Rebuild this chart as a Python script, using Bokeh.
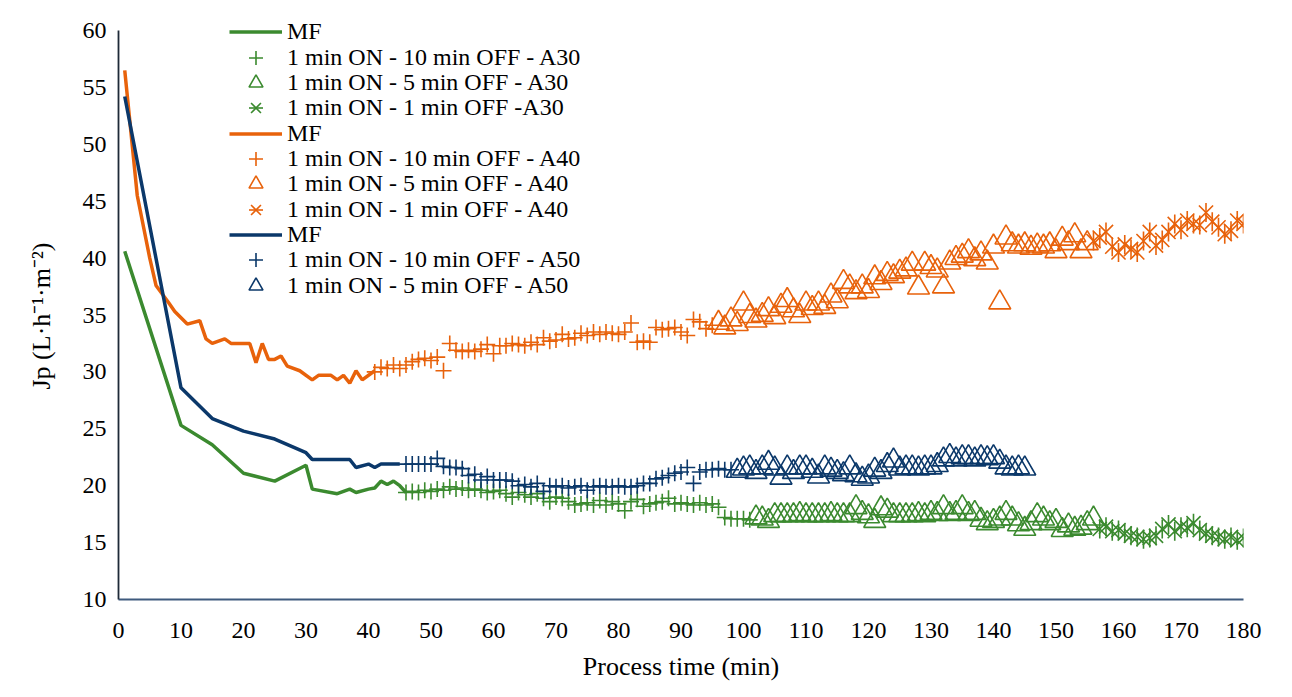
from bokeh.plotting import figure
from bokeh.models import FixedTicker, Legend, LegendItem, Range1d, Title
from bokeh.core.properties import value
from bokeh.embed import file_html
from bokeh.resources import INLINE

# ---------------- data ----------------
x_ticks = [0, 10, 20, 30, 40, 50, 60, 70, 80, 90, 100, 110, 120, 130, 140, 150, 160, 170, 180]
y_ticks = [10, 15, 20, 25, 30, 35, 40, 45, 50, 55, 60]

# A30 (green)
a30_mf_t = [1, 10, 15, 20, 25, 30, 31, 35, 37, 38, 40, 41, 42, 43, 44, 45, 46]
a30_mf = [40.6, 25.3, 23.6, 21.1, 20.4, 21.8, 19.7, 19.3, 19.7, 19.4, 19.7, 19.8, 20.4, 20.1, 20.4, 20.0, 19.4]
a30_p10_t = [46, 47, 48, 49, 50, 51, 52, 53, 54, 55, 56, 57, 58, 59, 60, 61, 62, 63, 64, 65,
             66, 67, 68, 69, 70, 71, 72, 73, 74, 75, 76, 77, 78, 79, 80, 81, 82, 83, 84, 85,
             86, 87, 88, 89, 90, 91, 92, 93, 94, 95, 96, 97, 98, 99, 100, 101]
a30_p10 = [19.4, 19.5, 19.4, 19.6, 19.5, 19.7, 19.6, 19.9, 19.7, 19.8,
           19.6, 19.7, 19.6, 19.4, 19.5, 19.6, 19.3, 19.0, 19.4, 19.2,
           19.0, 19.3, 18.9, 18.6, 19.0, 18.9, 18.6, 18.3, 18.4, 18.5,
           18.3, 18.7, 18.3, 18.6, 18.4, 17.8, 18.6, 18.8, 18.2, 18.4,
           18.5, 18.6, 18.9, 18.4, 18.5, 18.4, 18.3, 18.5, 18.3, 18.4,
           18.1, 17.2, 17.1, 17.1, 17.1, 17.0]
a30_p5_t = [102, 103, 104, 105, 106, 107, 108, 109, 110, 111, 112, 113, 114, 115, 116, 117, 118, 119, 120, 121,
            122, 123, 124, 125, 126, 127, 128, 129, 130, 131, 132, 133, 134, 135, 136, 137, 138, 139, 140, 141,
            142, 143, 144, 145, 146, 147, 148, 149, 150, 151, 152, 153, 154, 155, 156]
a30_p5 = [17.2, 17.1, 16.9, 17.4, 17.4, 17.4, 17.4, 17.5, 17.4, 17.4,
          17.4, 17.4, 17.5, 17.4, 17.4, 17.4, 18.1, 17.6, 17.3, 16.9,
          18.0, 17.8, 17.4, 17.4, 17.4, 17.4, 17.5, 17.4, 17.6, 17.5,
          18.1, 17.5, 17.6, 18.1, 17.5, 17.6, 17.0, 16.7, 16.9, 17.1,
          17.6, 17.1, 16.6, 16.2, 16.7, 17.4, 17.1, 16.7, 16.9, 16.1,
          16.5, 16.2, 16.3, 16.7, 17.1]
a30_p1_t = [157, 158, 159, 160, 161, 162, 163, 164, 165, 166, 167, 168, 169, 170, 171, 172, 173, 174, 175, 176,
            177, 178, 179, 180]
a30_p1 = [16.2, 16.4, 16.0, 16.1, 15.8, 15.6, 15.5, 15.3, 15.4, 15.6, 16.2, 16.6, 16.0, 16.4, 16.3, 16.7,
          16.1, 15.8, 15.6, 15.5, 15.3, 15.5, 15.2, 15.4]

# A40 (orange)
a40_mf_t = [1, 3, 5, 6, 8, 9, 11, 13, 14, 15, 17, 18, 21, 22, 23, 24, 25, 26, 27, 29,
            31, 32, 34, 35, 36, 37, 38, 39, 41]
a40_mf = [56.5, 45.5, 40.0, 37.6, 36.1, 35.3, 34.2, 34.5, 32.9, 32.5, 32.9, 32.5, 32.5, 30.8, 32.5, 31.1,
          31.1, 31.4, 30.5, 30.1, 29.3, 29.7, 29.7, 29.3, 29.7, 29.0, 30.1, 29.3, 30.1]
a40_p10_t = [41, 42, 43, 44, 45, 46, 47, 48, 49, 50, 51, 52, 53, 54, 55, 56, 57, 58, 59, 60,
             61, 62, 63, 64, 65, 66, 67, 68, 69, 70, 71, 72, 73, 74, 75, 76, 77, 78, 79, 80,
             81, 82, 83, 84, 85, 86, 87, 88, 89, 90, 91, 92, 93, 94, 95]
a40_p10 = [30.0, 30.4, 30.3, 30.6, 30.3, 30.6, 30.9, 31.1, 31.2, 31.0,
           31.3, 30.1, 32.5, 31.9, 31.8, 31.9, 31.8, 32.0, 32.4, 31.6,
           32.3, 32.3, 32.5, 32.4, 32.3, 32.6, 32.4, 33.0, 32.7, 32.8,
           33.3, 32.9, 33.0, 33.4, 33.2, 33.5, 33.3, 33.5, 33.4, 33.3,
           33.5, 34.3, 32.6, 32.7, 32.6, 33.9, 33.7, 33.8, 33.9, 33.5,
           33.2, 34.6, 34.4, 33.8, 34.1]
a40_p5_t = [96, 97, 98, 99, 100, 101, 102, 103, 104, 105, 106, 107, 108, 109, 110, 111, 112, 113, 114, 115,
            116, 117, 118, 119, 120, 121, 122, 123, 124, 125, 126, 127, 128, 129, 130, 131, 132, 133, 134, 135,
            136, 137, 138, 139, 140, 141, 142, 143, 144, 145, 146, 147, 148, 149, 150, 151, 152, 153, 154, 155]
a40_p5 = [34.3, 33.9, 34.6, 34.2, 36.0, 34.9, 34.5, 35.0, 35.5, 34.8,
          35.8, 36.3, 35.4, 34.9, 36.0, 35.6, 36.0, 35.7, 36.7, 36.2,
          37.9, 37.5, 37.0, 37.5, 37.1, 38.3, 37.8, 38.6, 38.4, 38.8,
          39.0, 39.5, 37.4, 39.5, 39.2, 38.9, 37.5, 39.6, 40.0, 40.2,
          40.6, 39.9, 40.4, 39.6, 41.0, 36.1, 41.8, 41.2, 41.0, 41.2,
          40.9, 41.1, 41.0, 41.2, 40.6, 41.7, 41.3, 42.0, 40.6, 41.3]
a40_p1_t = [156, 157, 158, 159, 160, 161, 162, 163, 164, 165, 166, 167, 168, 169, 170, 171, 172, 173, 174, 175,
            176, 177, 178, 179, 180]
a40_p1 = [41.5, 41.8, 42.3, 41.0, 40.5, 41.2, 40.8, 40.5, 41.5, 42.3, 41.1, 41.6, 42.3, 43.0, 42.5, 43.3,
          43.0, 42.9, 44.0, 43.2, 42.7, 42.1, 42.4, 43.3, 43.0]

# A50 (blue)
a50_mf_t = [1, 10, 15, 20, 25, 30, 31, 37, 38, 40, 41, 42, 45]
a50_mf = [54.2, 28.6, 25.9, 24.8, 24.1, 22.9, 22.3, 22.3, 21.6, 21.9, 21.6, 21.9, 21.9]
a50_p10_t = [46, 47, 48, 49, 50, 51, 52, 53, 54, 55, 56, 57, 58, 59, 60, 61, 62, 63, 64, 65,
             66, 67, 68, 69, 70, 71, 72, 73, 74, 75, 76, 77, 78, 79, 80, 81, 82, 83, 84, 85,
             86, 87, 88, 89, 90, 91, 92, 93, 94, 95, 96, 97, 98]
a50_p10 = [21.9, 21.9, 21.9, 21.9, 21.9, 22.4, 21.7, 21.6, 21.6, 21.5,
           20.9, 21.0, 20.5, 20.8, 20.5, 20.5, 20.5, 20.4, 20.0, 20.1,
           19.9, 20.2, 19.5, 20.0, 19.9, 20.0, 19.8, 19.9, 20.0, 19.6,
           19.9, 20.0, 19.9, 19.9, 20.0, 19.9, 19.9, 20.0, 20.2, 20.2,
           20.6, 20.7, 20.9, 21.1, 21.2, 21.6, 20.2, 21.2, 21.4, 21.4,
           21.5, 21.4, 21.4]
a50_p5_t = [99, 100, 101, 102, 103, 104, 105, 106, 107, 108, 109, 110, 111, 112, 113, 114, 115, 116, 117, 118,
            119, 120, 121, 122, 123, 124, 125, 126, 127, 128, 129, 130, 131, 132, 133, 134, 135, 136, 137, 138,
            139, 140, 141, 142, 143, 144, 145]
a50_p5 = [21.3, 21.5, 21.6, 21.2, 21.6, 22.0, 21.5, 20.7, 21.6, 21.2,
          21.6, 21.6, 21.3, 20.8, 21.6, 21.4, 21.2, 21.0, 21.6, 20.9,
          20.6, 20.8, 21.4, 21.2, 21.8, 22.2, 21.5, 21.6, 21.6, 21.5,
          21.6, 21.6, 21.8, 22.3, 22.6, 22.3, 22.5, 22.5, 22.3, 22.5,
          22.4, 22.5, 22.1, 21.6, 21.5, 21.6, 21.5]

labels = ["MF", "1 min ON - 10 min OFF - A30", "1 min ON - 5 min OFF - A30", "1 min ON - 1 min OFF -A30",
          "MF", "1 min ON - 10 min OFF - A40", "1 min ON - 5 min OFF - A40", "1 min ON - 1 min OFF - A40",
          "MF", "1 min ON - 10 min OFF - A50", "1 min ON - 5 min OFF - A50"]

# ---------------- styles ----------------
GREEN = "#3b8a2f"
ORANGE = "#e8620b"
BLUE = "#0b386a"
FONT = "Liberation Serif"

FRAME_TOP_PAD = 30          # px between figure top and the "60" level
FRAME_H = 569               # px between 60 and 10
FRAME_BOTTOM = FRAME_TOP_PAD + FRAME_H
y_top = 60 + 50 * FRAME_TOP_PAD / FRAME_H

p = figure(width=1292, height=697, output_backend="svg", toolbar_location=None,
           x_range=Range1d(0, 180), y_range=Range1d(10, y_top),
           min_border_left=118, min_border_right=49, min_border_top=0, min_border_bottom=98)
p.xgrid.visible = False
p.ygrid.visible = False
p.outline_line_color = None
p.background_fill_color = "white"
p.border_fill_color = "white"

p.xaxis.ticker = FixedTicker(ticks=x_ticks)
p.yaxis.ticker = FixedTicker(ticks=y_ticks)
p.yaxis.bounds = (10, 60)
for ax in (p.xaxis[0], p.yaxis[0]):
    ax.major_tick_line_color = None
    ax.minor_tick_line_color = None
    ax.major_tick_out = 0
    ax.major_tick_in = 0
    ax.major_label_text_font = FONT
    ax.major_label_text_font_size = "24px"
    ax.major_label_text_color = "#000000"
    ax.axis_label_text_font = FONT
    ax.axis_label_text_font_size = "26px"
    ax.axis_label_text_font_style = "normal"
    ax.axis_label_text_color = "#000000"
    ax.axis_line_width = 1.8
p.yaxis.axis_line_color = "#1e2a38"
p.xaxis.axis_line_color = "#3f5a7e"
p.xaxis.major_label_standoff = 23
p.yaxis.major_label_standoff = 12
p.xaxis.axis_label = "Process time (min)"
p.xaxis.axis_label_standoff = 11

# y-axis title, centred on the 10..60 span of the axis
ytitle = Title(text="Jp (L·h⁻¹·m⁻²)", align="left", offset=210, standoff=48,
               text_font=FONT, text_font_size="26px", text_font_style="normal",
               text_color="#000000")
p.add_layout(ytitle, "left")

LW = 3.5
MLW = 1.6


def plus(t, v, c):
    return p.scatter(t, v, marker="cross", size=16, line_color=c, line_width=MLW)


def tri(t, v, c):
    return p.scatter(t, v, marker="triangle", size=22, line_color=c, fill_color=None, line_width=MLW)


def star(t, v, c):
    r1 = p.scatter(t, v, marker="x", size=20, line_color=c, line_width=MLW)
    r2 = p.scatter(t, v, marker="dash", angle=1.5708, size=19, line_color=c, line_width=MLW)
    return [r1, r2]


g_mf = p.line(a30_mf_t, a30_mf, line_color=GREEN, line_width=LW)
g_p10 = plus(a30_p10_t, a30_p10, GREEN)
g_p5 = tri(a30_p5_t, a30_p5, GREEN)
g_p1 = star(a30_p1_t, a30_p1, GREEN)

o_mf = p.line(a40_mf_t, a40_mf, line_color=ORANGE, line_width=LW)
o_p10 = plus(a40_p10_t, a40_p10, ORANGE)
o_p5 = tri(a40_p5_t, a40_p5, ORANGE)
o_p1 = star(a40_p1_t, a40_p1, ORANGE)

b_mf = p.line(a50_mf_t, a50_mf, line_color=BLUE, line_width=LW)
b_p10 = plus(a50_p10_t, a50_p10, BLUE)
b_p5 = tri(a50_p5_t, a50_p5, BLUE)

rends = [[g_mf], [g_p10], [g_p5], g_p1, [o_mf], [o_p10], [o_p5], o_p1, [b_mf], [b_p10], [b_p5]]

# one single-row legend per entry so that the row pitch can be set exactly
ROW0 = 32.0      # centre of first legend row (px from top)
PITCH = 25.3     # px between rows
GLYPH_H = 35
for i, (lab, r) in enumerate(zip(labels, rends)):
    centre = ROW0 + PITCH * i
    bottom = centre + GLYPH_H / 2
    lg = Legend(items=[LegendItem(label=value(lab), renderers=r)],
                location=(111, int(round(FRAME_BOTTOM - bottom))), orientation="vertical",
                border_line_color=None, background_fill_alpha=0.0,
                padding=0, margin=0, spacing=0,
                glyph_width=53, glyph_height=GLYPH_H, label_height=25, label_standoff=5,
                label_text_font=FONT, label_text_font_size="24px", label_text_color="#000000",
                label_text_baseline="middle")
    p.add_layout(lg)

open("out.html", "w").write(file_html(p, INLINE))
